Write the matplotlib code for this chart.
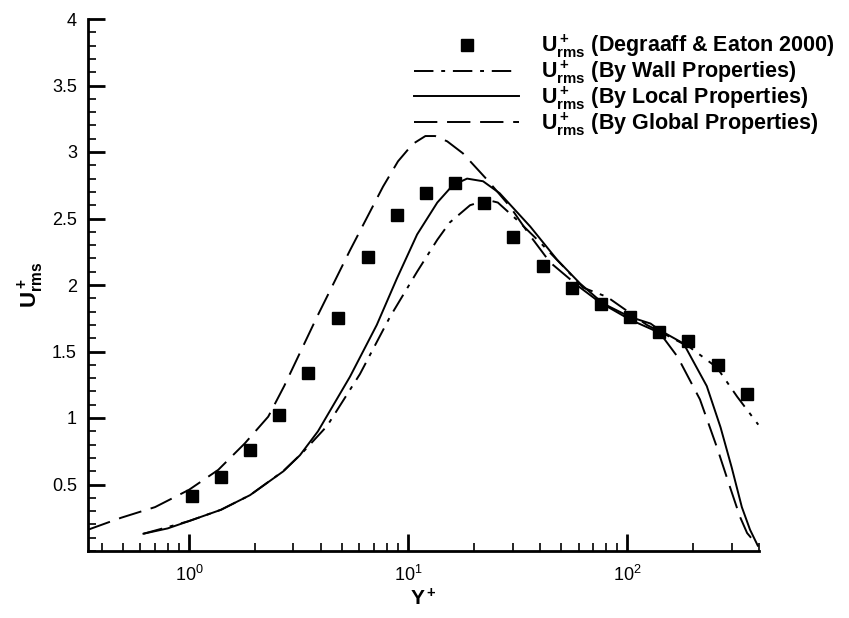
import numpy as np
import matplotlib
matplotlib.use('Agg')
import matplotlib.pyplot as plt
from matplotlib.ticker import LogLocator, MultipleLocator, FixedFormatter, FixedLocator

plt.rcParams['font.family'] = 'Liberation Sans'
plt.rcParams['mathtext.fontset'] = 'custom'
plt.rcParams['mathtext.rm'] = 'Liberation Sans'
plt.rcParams['mathtext.bf'] = 'Liberation Sans:bold'

# Experiment (Degraaff & Eaton 2000)
exp_y = [1.03, 1.40, 1.90, 2.58, 3.49, 4.79, 6.56, 8.91, 12.1, 16.4,
         22.2, 30.2, 41.3, 56.1, 76.1, 103, 140, 190, 261, 353]
exp_u = [0.41, 0.56, 0.76, 1.02, 1.34, 1.75, 2.21, 2.53, 2.69, 2.77,
         2.62, 2.36, 2.14, 1.98, 1.86, 1.76, 1.65, 1.58, 1.40, 1.18]

# By wall properties (dash-dot)
wall_y = [0.62, 0.8, 1.0, 1.4, 1.9, 2.69, 3.3, 4.27, 6.03, 8.27, 11.0, 13.6, 15.5,
          19.2, 23.0, 25.7, 31.4, 40.1, 51.1, 63.0, 81.1, 103, 123, 141,
          194, 257, 318, 397]
wall_u = [0.13, 0.18, 0.225, 0.31, 0.42, 0.60, 0.74, 0.94, 1.33, 1.76, 2.10, 2.34, 2.47,
          2.60, 2.64, 2.62, 2.49, 2.32, 2.14, 1.98, 1.91, 1.79, 1.70, 1.65,
          1.53, 1.38, 1.16, 0.95]

# By local properties (solid)
local_y = [0.62, 0.8, 1.0, 1.4, 1.9, 2.7, 3.21, 3.88, 5.43, 7.2, 8.9, 11.0, 13.6,
           16.0, 18.6, 22.0, 26.2, 36.1, 47.9, 61.1, 77.9, 103, 128, 141,
           181, 231, 267, 300, 334, 364, 395]
local_u = [0.13, 0.17, 0.225, 0.31, 0.42, 0.60, 0.72, 0.90, 1.31, 1.70, 2.05, 2.38, 2.62,
           2.75, 2.80, 2.78, 2.69, 2.44, 2.19, 2.01, 1.86, 1.76, 1.71, 1.66,
           1.56, 1.24, 0.93, 0.63, 0.33, 0.16, 0.04]

# By global properties (dashed)
glob_y = [0.346, 0.49, 0.70, 1.0, 1.36, 1.80, 2.30, 2.72, 3.84, 5.43, 7.69, 9.0,
          10.5, 12.0, 13.3, 15.1, 17.8, 23.0, 29.2, 36.1, 44.5, 60.0, 75.0, 103, 141,
          170, 215, 257, 295, 327, 353, 390]
glob_u = [0.16, 0.25, 0.33, 0.46, 0.61, 0.81, 1.01, 1.24, 1.76, 2.26, 2.74, 2.93,
          3.06, 3.12, 3.12, 3.08, 2.99, 2.79, 2.59, 2.37, 2.17, 1.99, 1.87, 1.74, 1.64,
          1.46, 1.14, 0.78, 0.48, 0.26, 0.135, 0.05]

fig = plt.figure(figsize=(8.49, 6.18), dpi=100)
ax = fig.add_axes([88/849, 1 - 551/618, (759 - 88)/849, (551 - 19)/618])

lw = 1.4
ax.plot(exp_y, exp_u, 's', color='black', markersize=8, linestyle='none',
        label=r'$\mathbf{U^+_{rms}}$ (Degraaff & Eaton 2000)')
ax.plot(wall_y, wall_u, color='black', lw=lw, dashes=(10, 4, 2, 4),
        label=r'$\mathbf{U^+_{rms}}$ (By Wall Properties)')
ax.plot(local_y, local_u, color='black', lw=lw, linestyle='-',
        label=r'$\mathbf{U^+_{rms}}$ (By Local Properties)')
ax.plot(glob_y, glob_u, color='black', lw=lw, dashes=(12, 5),
        label=r'$\mathbf{U^+_{rms}}$ (By Global Properties)')

ax.set_xscale('log')
ax.set_xlim(0.346, 400)
ax.set_ylim(0, 4)

ax.spines['top'].set_visible(False)
ax.spines['right'].set_visible(False)
ax.spines['left'].set_linewidth(2)
ax.spines['bottom'].set_linewidth(2)

ax.xaxis.set_major_locator(FixedLocator([1, 10, 100]))
ax.xaxis.set_major_formatter(FixedFormatter([r'$\mathregular{10^{0}}$', r'$\mathregular{10^{1}}$',
                                             r'$\mathregular{10^{2}}$']))
ax.xaxis.set_minor_locator(LogLocator(base=10, subs=np.arange(2, 10), numticks=20))
ax.xaxis.set_minor_formatter(FixedFormatter([]))
ax.yaxis.set_minor_locator(MultipleLocator(0.1))
ax.set_yticks([0.5, 1, 1.5, 2, 2.5, 3, 3.5, 4])
ax.set_yticklabels(['0.5', '1', '1.5', '2', '2.5', '3', '3.5', '4'])

ax.tick_params(which='major', direction='in', length=12, width=2, labelsize=13, pad=8)
ax.tick_params(which='minor', direction='in', length=6, width=1.2)
ax.tick_params(axis='x', which='major', pad=10)

ax.set_xlabel(r'$\mathbf{Y^+}$', fontsize=15, labelpad=2)
ax.set_ylabel(r'$\mathbf{U^+_{rms}}$', fontsize=16, labelpad=4)

leg = ax.legend(loc='upper right', bbox_to_anchor=(845/849, 1 - 22/618),
                bbox_transform=fig.transFigure, frameon=False, borderpad=0,
                handlelength=4.9, handletextpad=1.0, labelspacing=-0.08,
                prop={'weight': 'bold', 'size': 15.5})

fig.savefig('out.png', dpi=100)
